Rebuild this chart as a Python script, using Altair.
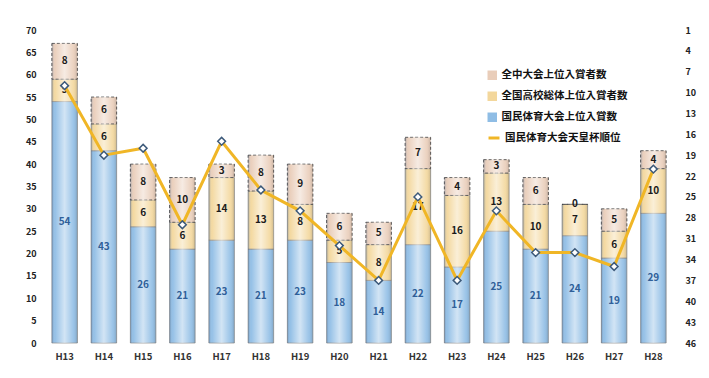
import altair as alt
import pandas as pd

years = ["H13", "H14", "H15", "H16", "H17", "H18", "H19", "H20",
         "H21", "H22", "H23", "H24", "H25", "H26", "H27", "H28"]
kokutai = [54, 43, 26, 21, 23, 21, 23, 18, 14, 22, 17, 25, 21, 24, 19, 29]
koukou = [5, 6, 6, 6, 14, 13, 8, 5, 8, 17, 16, 13, 10, 7, 6, 10]
zenchu = [8, 6, 8, 10, 3, 8, 9, 6, 5, 7, 4, 3, 6, 0, 5, 4]
rank = [9, 19, 18, 29, 17, 24, 27, 32, 37, 25, 37, 27, 33, 33, 35, 21]

s_zen = "全中大会上位入賞者数"
s_kou = "全国高校総体上位入賞者数"
s_kok = "国民体育大会上位入賞数"
s_rank = "国民体育大会天皇杯順位"

series_names = [s_zen, s_kou, s_kok]
series_colors = ["#e9cdb9", "#f3d79c", "#8fbde5"]

rows = []
for i, y in enumerate(years):
    rows.append({"year": y, "series": s_kok, "value": kokutai[i], "ord": 0})
    rows.append({"year": y, "series": s_kou, "value": koukou[i], "ord": 1})
    rows.append({"year": y, "series": s_zen, "value": zenchu[i], "ord": 2})
df = pd.DataFrame(rows)
rank_df = pd.DataFrame({"year": years, "rank": rank, "label": s_rank})

FONT = "Noto Sans CJK JP"

x_axis = alt.Axis(labelAngle=0, labelFont=FONT, labelFontWeight="bold",
                  labelFontSize=9.5, labelColor="#333333", labelPadding=8,
                  ticks=False, domain=False, title=None)
x_scale = alt.Scale(paddingInner=0.35, paddingOuter=0.175)


def xenc():
    return alt.X("year:N", sort=years, title=None, scale=x_scale, axis=x_axis)


base = alt.Chart(df).transform_stack(
    stack="value", groupby=["year"], as_=["y0", "y1"],
    sort=[alt.SortField("ord", order="ascending")]
)

yscale = alt.Scale(domain=[0, 70], nice=False)
y_axis = alt.Axis(values=list(range(0, 71, 5)), labelFont=FONT, labelFontWeight="bold",
                  labelFontSize=9, labelColor="#222222", ticks=False, domain=False,
                  grid=False, labelPadding=9, title=None, labelOverlap=False,
                  labelBound=False)

bars = base.mark_bar(strokeWidth=0.8).encode(
    x=xenc(),
    y=alt.Y("y0:Q", scale=yscale, axis=y_axis, title=None),
    y2="y1:Q",
    color=alt.Color("series:N",
                    scale=alt.Scale(domain=series_names, range=series_colors),
                    legend=alt.Legend(title=None, orient="none", legendX=442, legendY=40,
                                      labelFont=FONT, labelFontWeight="bold",
                                      labelFontSize=10.5, labelColor="#111111",
                                      symbolType="square", symbolSize=90,
                                      rowPadding=10, symbolStrokeWidth=0)),
    stroke=alt.condition(alt.datum.series == s_zen, alt.value("#333333"), alt.value("#8a8a8a")),
    strokeDash=alt.condition(alt.datum.series == s_zen, alt.value([3, 2]), alt.value([1, 0])),
)

shine = base.mark_bar(
    color=alt.LinearGradient(
        gradient="linear", x1=0, x2=1, y1=0, y2=0,
        stops=[alt.GradientStop(offset=0, color="rgba(40,70,110,0.35)"),
               alt.GradientStop(offset=0.12, color="rgba(255,255,255,0.05)"),
               alt.GradientStop(offset=0.5, color="rgba(255,255,255,0.6)"),
               alt.GradientStop(offset=0.85, color="rgba(255,255,255,0.1)"),
               alt.GradientStop(offset=1, color="rgba(60,60,60,0.2)")]),
).encode(
    x=xenc(),
    y=alt.Y("y0:Q", scale=yscale, axis=y_axis, title=None),
    y2="y1:Q",
)

labels = base.transform_calculate(mid="(datum.y0 + datum.y1) / 2").mark_text(
    font=FONT, fontWeight="bold", fontSize=10
).encode(
    x=xenc(),
    y=alt.Y("mid:Q", scale=yscale, axis=y_axis, title=None),
    text="value:Q",
    color=alt.condition(alt.datum.series == s_kok, alt.value("#2f5f99"), alt.value("#1a1a1a")),
)

rscale = alt.Scale(domain=[1, 46], reverse=True, nice=False, zero=False)
r_axis = alt.Axis(values=list(range(1, 47, 3)), orient="right", labelFont=FONT,
                  labelFontWeight="bold", labelFontSize=9, labelColor="#222222",
                  ticks=False, domain=False, grid=False, labelPadding=12, title=None,
                  labelOverlap=False, labelBound=False)

line = alt.Chart(rank_df).mark_line(strokeWidth=3).encode(
    x=xenc(),
    y=alt.Y("rank:Q", scale=rscale, axis=r_axis, title=None),
    color=alt.Color("label:N", scale=alt.Scale(range=["#f0b626"]),
                    legend=alt.Legend(title=None, orient="none", legendX=442, legendY=101,
                                      labelFont=FONT, labelFontWeight="bold",
                                      labelFontSize=10.5, labelColor="#111111",
                                      symbolType="stroke", symbolStrokeWidth=3,
                                      symbolSize=120)),
)
pts = alt.Chart(rank_df).mark_point(shape="diamond", filled=True, fill="white",
                                    stroke="#3d5a7a", strokeWidth=1.5, size=60,
                                    opacity=1).encode(
    x=xenc(),
    y=alt.Y("rank:Q", scale=rscale, axis=r_axis, title=None),
)

left = alt.layer(bars, shine, labels)
right = alt.layer(line, pts)

chart = alt.layer(left, right).resolve_scale(y="independent", color="independent").properties(
    width=628, height=313,
    padding={"left": 45, "top": 30, "right": 36, "bottom": 35},
    autosize=alt.AutoSizeParams(type="none"),
    background="white",
).configure_view(stroke=None)

chart.save("out.html", embed_options={"renderer": "svg", "actions": False})
